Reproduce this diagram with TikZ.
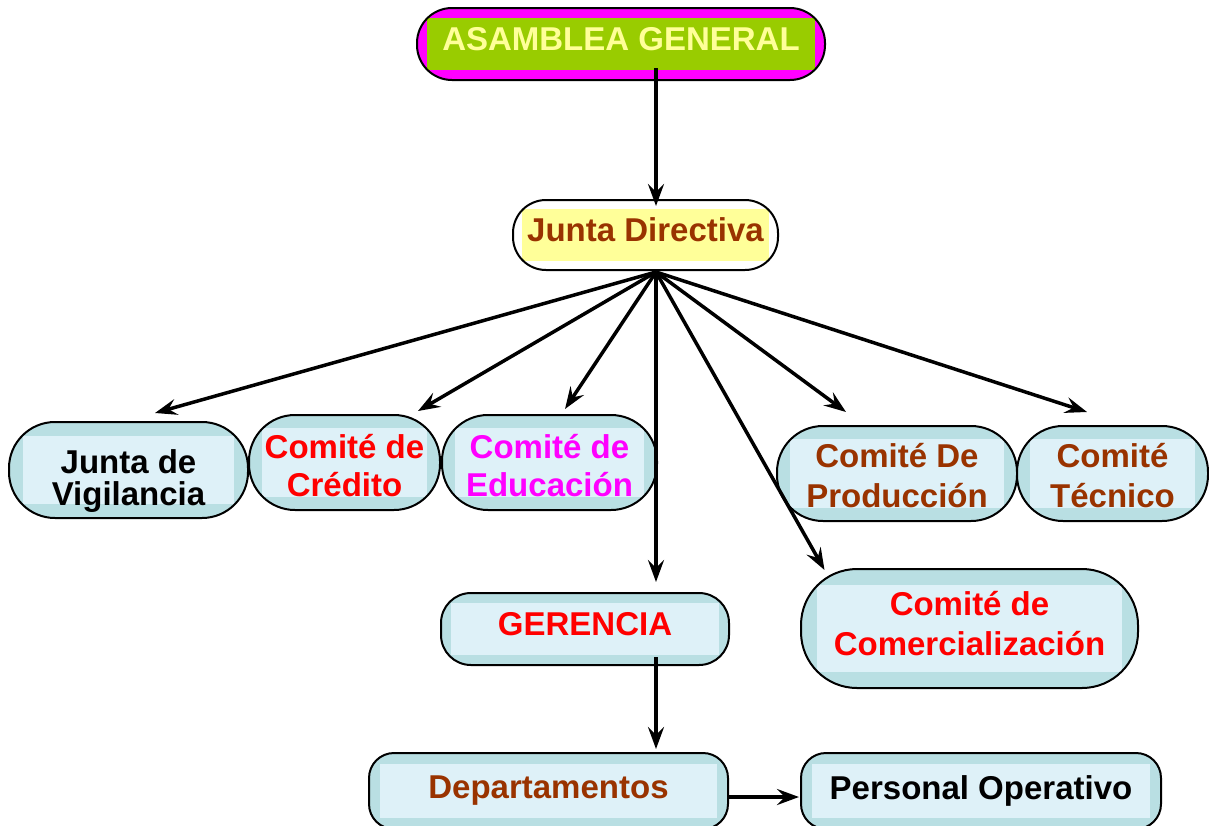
\documentclass[tikz,border=0pt]{standalone}
\usepackage{fontspec}
\setmainfont{Liberation Sans}
\usetikzlibrary{arrows.meta,calc}
\definecolor{outerc}{RGB}{185,223,227}
\definecolor{innerc}{RGB}{222,241,248}
\definecolor{brownc}{RGB}{153,51,0}
\definecolor{magc}{RGB}{255,0,255}
\definecolor{greenc}{RGB}{153,204,0}
\definecolor{yelc}{RGB}{255,255,153}
\def\pinset{13pt}
\def\pinnerc{innerc}
\tikzset{
  pin/.code={\def\pinset{#1}},
  pincol/.code={\def\pinnerc{#1}},
  boxbase/.style={draw=black, line width=2pt, inner sep=0pt, align=center,
    font=\fontsize{33}{37}\selectfont\bfseries,
    path picture={\fill[\pinnerc, sharp corners] ($(path picture bounding box.south west)+(\pinset,\pinset)$) rectangle ($(path picture bounding box.north east)-(\pinset,\pinset)$);}},
  pill/.style={boxbase, fill=outerc},
  twoline/.style 2 args={font=\fontsize{33}{#1}\selectfont\bfseries, text depth=0pt, text height=#2},
  conn/.style={line width=3.5pt, -{Stealth[length=22pt,width=16pt,inset=8pt]}},
}
\begin{document}
\begin{tikzpicture}[x=1pt,y=-1pt]
\useasboundingbox[fill=white] (0,0) rectangle (1209,825);

% top nodes
\node[boxbase, fill=magc, pincol=greenc, pin={10pt}, minimum width=408pt, minimum height=72pt,
      rounded corners=35pt, text=yelc, text depth=11pt] (asm) at (621,44) {ASAMBLEA GENERAL};
\node[boxbase, fill=white, pincol=yelc, pin={9pt}, minimum width=265pt, minimum height=70pt,
      rounded corners=33pt, text=brownc, text depth=10pt] (jd) at (645.5,235) {Junta Directiva};

% committees
\node[pill, pin={14pt}, minimum width=239pt, minimum height=96pt, rounded corners=46pt, twoline={32}{70pt}] (jv) at (128.5,470) {Junta de\\Vigilancia};
\node[pill, pin={13pt}, minimum width=191pt, minimum height=95pt, rounded corners=46pt, text=red, twoline={38}{67pt}] (cc) at (344.5,462.5) {Comité de\\Crédito};
\node[pill, pin={13pt}, minimum width=215pt, minimum height=95pt, rounded corners=46pt, text=magc, twoline={38}{67pt}] (ce) at (549.5,462.5) {Comité de\\Educación};
\node[pill, pin={13pt}, minimum width=240pt, minimum height=95pt, rounded corners=46pt, text=brownc, twoline={40}{67pt}] (cp) at (897,473.5) {Comité De\\Producción};
\node[pill, pin={13pt}, minimum width=191pt, minimum height=95pt, rounded corners=46pt, text=brownc, twoline={40}{67pt}] (ct) at (1112.5,473.5) {Comité\\Técnico};

\node[pill, pin={10pt}, minimum width=288pt, minimum height=72pt, rounded corners=30pt, text=red, text depth=11pt] (ger) at (585,629) {GERENCIA};
\node[pill, pin={16pt}, minimum width=337pt, minimum height=119pt, rounded corners=56pt, text=red, twoline={40}{53pt}] (com) at (969.5,628.5) {Comité de\\Comercialización};

\node[pill, pin={11pt}, minimum width=359pt, minimum height=76pt, rounded corners=25pt, text=brownc] (dep) at (548.5,791) {Departamentos};
\node[pill, pin={11pt}, minimum width=360pt, minimum height=76pt, rounded corners=25pt, text=black] (po) at (981,791) {Personal Operativo};

% connectors
\coordinate (hub) at ($(jd.south)+(10.5,1)$);
\draw[conn] ($(asm.center)+(35,24)$) -- ($(jd.north)+(10.5,7)$);
\draw[conn] (hub) -- ($(jv.north)+(26.5,-8)$);
\draw[conn] (hub) -- ($(cc.north)+(73.5,-3)$);
\draw[conn] (hub) -- ($(ce.north)+(15.5,-5)$);
\draw[conn] (hub) -- ($(ger.north)+(71,-10)$);
\draw[conn] (hub) -- ($(com.north)+(-145,2)$);
\draw[conn] (hub) -- ($(cp.north)+(-51,-13)$);
\draw[conn] (hub) -- ($(ct.north)+(-25.5,-13)$);
\draw[conn] ($(ger.center)+(71,28)$) -- ($(dep.north)+(107.5,-3)$);
\draw[conn] ($(dep.east)+(0,6)$) -- ($(po.west)+(-1,6)$);
\end{tikzpicture}
\end{document}
